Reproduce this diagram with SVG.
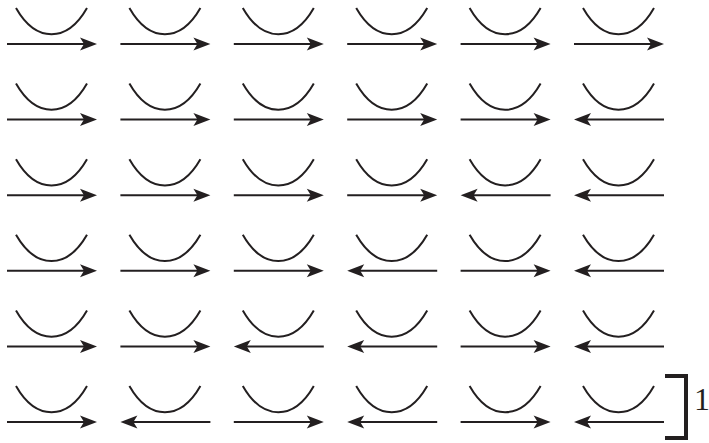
<svg xmlns="http://www.w3.org/2000/svg" xmlns:xlink="http://www.w3.org/1999/xlink" width="709" height="443" viewBox="0 0 709 443">
<style>
.cv{fill:none;stroke:#231f20;stroke-width:2}
.ln{fill:none;stroke:#231f20;stroke-width:2}
.hd{fill:#231f20;stroke:none}
.br{fill:none;stroke:#231f20;stroke-width:4}
.lb{font-family:"Liberation Serif","Times New Roman",serif;font-size:32px;fill:#231f20}
</style>
<defs>
<path id="cup" class="cv" d="M9,-36 C29,-1 60,-1 80,-36"/>
<g id="arrR"><path class="ln" d="M0,0 H82"/><polygon class="hd" points="90,0 73,-6.5 77,0 73,6.5"/></g>
<g id="arrL"><path class="ln" d="M8,0 H90"/><polygon class="hd" points="0,0 17,-6.5 13,0 17,6.5"/></g>
</defs>
<g id="row1">
<g id="r1c1" transform="translate(7,44)"><use xlink:href="#cup"/><use xlink:href="#arrR"/></g>
<g id="r1c2" transform="translate(120.4,44)"><use xlink:href="#cup"/><use xlink:href="#arrR"/></g>
<g id="r1c3" transform="translate(233.8,44)"><use xlink:href="#cup"/><use xlink:href="#arrR"/></g>
<g id="r1c4" transform="translate(347.2,44)"><use xlink:href="#cup"/><use xlink:href="#arrR"/></g>
<g id="r1c5" transform="translate(460.6,44)"><use xlink:href="#cup"/><use xlink:href="#arrR"/></g>
<g id="r1c6" transform="translate(574,44)"><use xlink:href="#cup"/><use xlink:href="#arrR"/></g>
</g>
<g id="row2">
<g id="r2c1" transform="translate(7,119.6)"><use xlink:href="#cup"/><use xlink:href="#arrR"/></g>
<g id="r2c2" transform="translate(120.4,119.6)"><use xlink:href="#cup"/><use xlink:href="#arrR"/></g>
<g id="r2c3" transform="translate(233.8,119.6)"><use xlink:href="#cup"/><use xlink:href="#arrR"/></g>
<g id="r2c4" transform="translate(347.2,119.6)"><use xlink:href="#cup"/><use xlink:href="#arrR"/></g>
<g id="r2c5" transform="translate(460.6,119.6)"><use xlink:href="#cup"/><use xlink:href="#arrR"/></g>
<g id="r2c6" transform="translate(574,119.6)"><use xlink:href="#cup"/><use xlink:href="#arrL"/></g>
</g>
<g id="row3">
<g id="r3c1" transform="translate(7,195.2)"><use xlink:href="#cup"/><use xlink:href="#arrR"/></g>
<g id="r3c2" transform="translate(120.4,195.2)"><use xlink:href="#cup"/><use xlink:href="#arrR"/></g>
<g id="r3c3" transform="translate(233.8,195.2)"><use xlink:href="#cup"/><use xlink:href="#arrR"/></g>
<g id="r3c4" transform="translate(347.2,195.2)"><use xlink:href="#cup"/><use xlink:href="#arrR"/></g>
<g id="r3c5" transform="translate(460.6,195.2)"><use xlink:href="#cup"/><use xlink:href="#arrL"/></g>
<g id="r3c6" transform="translate(574,195.2)"><use xlink:href="#cup"/><use xlink:href="#arrL"/></g>
</g>
<g id="row4">
<g id="r4c1" transform="translate(7,270.8)"><use xlink:href="#cup"/><use xlink:href="#arrR"/></g>
<g id="r4c2" transform="translate(120.4,270.8)"><use xlink:href="#cup"/><use xlink:href="#arrR"/></g>
<g id="r4c3" transform="translate(233.8,270.8)"><use xlink:href="#cup"/><use xlink:href="#arrR"/></g>
<g id="r4c4" transform="translate(347.2,270.8)"><use xlink:href="#cup"/><use xlink:href="#arrL"/></g>
<g id="r4c5" transform="translate(460.6,270.8)"><use xlink:href="#cup"/><use xlink:href="#arrR"/></g>
<g id="r4c6" transform="translate(574,270.8)"><use xlink:href="#cup"/><use xlink:href="#arrL"/></g>
</g>
<g id="row5">
<g id="r5c1" transform="translate(7,346.4)"><use xlink:href="#cup"/><use xlink:href="#arrR"/></g>
<g id="r5c2" transform="translate(120.4,346.4)"><use xlink:href="#cup"/><use xlink:href="#arrR"/></g>
<g id="r5c3" transform="translate(233.8,346.4)"><use xlink:href="#cup"/><use xlink:href="#arrL"/></g>
<g id="r5c4" transform="translate(347.2,346.4)"><use xlink:href="#cup"/><use xlink:href="#arrL"/></g>
<g id="r5c5" transform="translate(460.6,346.4)"><use xlink:href="#cup"/><use xlink:href="#arrR"/></g>
<g id="r5c6" transform="translate(574,346.4)"><use xlink:href="#cup"/><use xlink:href="#arrL"/></g>
</g>
<g id="row6">
<g id="r6c1" transform="translate(7,422)"><use xlink:href="#cup"/><use xlink:href="#arrR"/></g>
<g id="r6c2" transform="translate(120.4,422)"><use xlink:href="#cup"/><use xlink:href="#arrL"/></g>
<g id="r6c3" transform="translate(233.8,422)"><use xlink:href="#cup"/><use xlink:href="#arrR"/></g>
<g id="r6c4" transform="translate(347.2,422)"><use xlink:href="#cup"/><use xlink:href="#arrL"/></g>
<g id="r6c5" transform="translate(460.6,422)"><use xlink:href="#cup"/><use xlink:href="#arrR"/></g>
<g id="r6c6" transform="translate(574,422)"><use xlink:href="#cup"/><use xlink:href="#arrL"/></g>
</g>
<g id="bracket">
<path class="br" d="M665,376 H686 V438 H665"/>
<text class="lb" x="694" y="410">1</text>
</g>
</svg>
